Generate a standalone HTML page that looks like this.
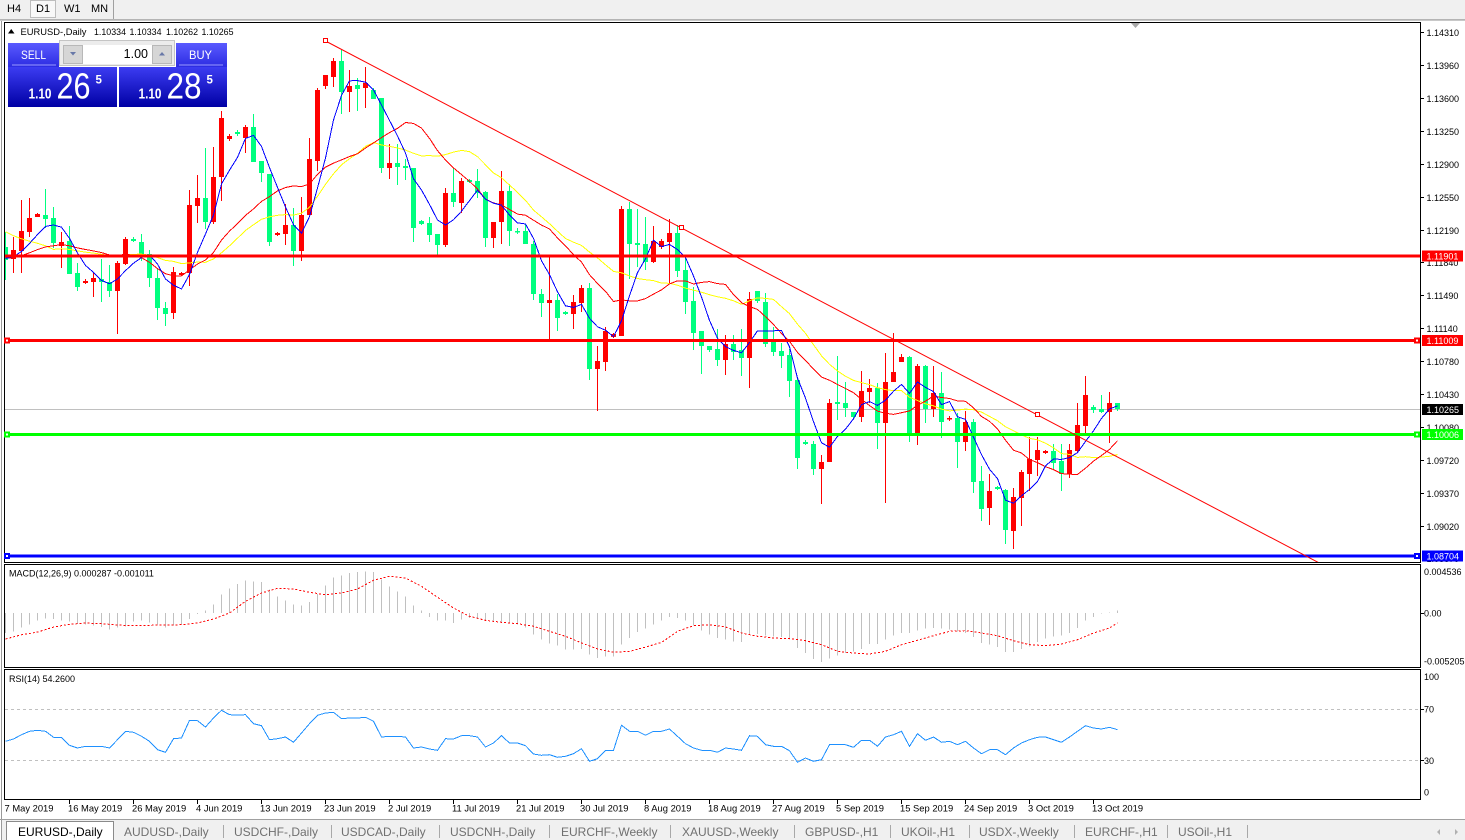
<!DOCTYPE html>
<html><head><meta charset="utf-8">
<style>
html,body{margin:0;padding:0;background:#fff;width:1465px;height:840px;overflow:hidden;font-family:"Liberation Sans",sans-serif;}
svg{display:block}
</style></head>
<body>
<svg id="c" xmlns="http://www.w3.org/2000/svg" width="1465" height="840" viewBox="0 0 1465 840" font-family="'Liberation Sans', sans-serif">
<defs>
<linearGradient id="gb" x1="0" y1="0" x2="0" y2="1"><stop offset="0" stop-color="#5a5aff"/><stop offset="1" stop-color="#2c2ce2"/></linearGradient>
<linearGradient id="gp" x1="0" y1="0" x2="0" y2="1"><stop offset="0" stop-color="#3c3cf2"/><stop offset="1" stop-color="#0000a4"/></linearGradient>
<clipPath id="cm"><rect x="5" y="23" width="1415" height="539"/></clipPath>
<clipPath id="cd"><rect x="5" y="565" width="1415" height="102"/></clipPath>
<clipPath id="cr"><rect x="5" y="670" width="1415" height="129"/></clipPath>
</defs>
<rect width="1465" height="840" fill="#fff"/>

<!-- toolbar -->
<rect x="0" y="0" width="1465" height="19" fill="#F0F0F0"/>
<line x1="0" y1="19.5" x2="1465" y2="19.5" stroke="#B4B4B4"/>
<rect x="30.5" y="0.5" width="25" height="17" fill="#F8F8F8" stroke="#BDBDBD"/>
<g font-size="11" fill="#000">
<text x="7" y="12">H4</text><text x="36" y="12">D1</text><text x="64" y="12">W1</text><text x="91" y="12">MN</text>
</g>
<line x1="113.5" y1="0" x2="113.5" y2="19" stroke="#A0A0A0"/>

<!-- window border -->
<line x1="1.5" y1="20" x2="1.5" y2="840" stroke="#9A9A9A"/>
<line x1="0" y1="20.5" x2="1465" y2="20.5" stroke="#C8C8C8"/>

<!-- pane frames -->
<g fill="none" stroke="#000" shape-rendering="crispEdges">
<rect x="4.5" y="22.5" width="1416" height="540"/>
<rect x="4.5" y="564.5" width="1416" height="103"/>
<rect x="4.5" y="669.5" width="1416" height="130"/>
</g>

<!-- RSI levels -->
<g stroke="#C0C0C0" stroke-dasharray="3,3" shape-rendering="crispEdges">
<line x1="5" y1="709.5" x2="1420" y2="709.5"/>
<line x1="5" y1="760.5" x2="1420" y2="760.5"/>
</g>

<!-- bid line -->
<line x1="5" y1="409.5" x2="1420" y2="409.5" stroke="#C0C0C0" shape-rendering="crispEdges"/>

<g id="gmain" clip-path="url(#cm)" shape-rendering="crispEdges"></g>
<g id="gma" clip-path="url(#cm)" shape-rendering="crispEdges"></g>
<g id="gmacd" clip-path="url(#cd)" shape-rendering="crispEdges"></g>
<g id="grsi" clip-path="url(#cr)" shape-rendering="crispEdges"></g>

<!-- horizontal levels -->
<g shape-rendering="crispEdges">
<rect x="5" y="254.5" width="1415" height="3" fill="#FF0000"/>
<rect x="5" y="339" width="1415" height="3" fill="#FF0000"/>
<rect x="5" y="433" width="1415" height="3" fill="#00FF00"/>
<rect x="5" y="554.5" width="1415" height="3" fill="#0000FF"/>
<rect x="4" y="337.5" width="6" height="6" fill="#FF0000"/><rect x="6" y="339.5" width="2" height="2" fill="#fff"/>
<rect x="1414" y="337.5" width="6" height="6" fill="#FF0000"/><rect x="1416" y="339.5" width="2" height="2" fill="#fff"/>
<rect x="4" y="431.5" width="6" height="6" fill="#00FF00"/><rect x="6" y="433.5" width="2" height="2" fill="#fff"/>
<rect x="1414" y="431.5" width="6" height="6" fill="#00FF00"/><rect x="1416" y="433.5" width="2" height="2" fill="#fff"/>
<rect x="4" y="553" width="6" height="6" fill="#0000FF"/><rect x="6" y="555" width="2" height="2" fill="#fff"/>
<rect x="1414" y="553" width="6" height="6" fill="#0000FF"/><rect x="1416" y="555" width="2" height="2" fill="#fff"/>
</g>

<!-- trend line -->
<g clip-path="url(#cm)">
<line x1="325.5" y1="41" x2="1345" y2="576.5" stroke="#FF0000" stroke-width="1"/>
</g>
<g fill="#fff" stroke="#FF0000" shape-rendering="crispEdges">
<rect x="323.5" y="38.5" width="4" height="4"/>
<rect x="679.5" y="225.5" width="4" height="4"/>
<rect x="1035.5" y="412.5" width="4" height="4"/>
</g>
<polygon points="1131,23 1140,23 1135.5,28" fill="#A8A8A8"/>

<!-- title -->
<polygon points="8,33.5 14.5,33.5 11.25,29" fill="#000"/>
<g font-size="9.5" fill="#000">
<text x="20.5" y="35" textLength="66" lengthAdjust="spacingAndGlyphs">EURUSD-,Daily</text>
<text x="94" y="35" textLength="32" lengthAdjust="spacingAndGlyphs">1.10334</text>
<text x="129.5" y="35" textLength="32" lengthAdjust="spacingAndGlyphs">1.10334</text>
<text x="166" y="35" textLength="32" lengthAdjust="spacingAndGlyphs">1.10262</text>
<text x="201.5" y="35" textLength="32" lengthAdjust="spacingAndGlyphs">1.10265</text>
</g>

<!-- trade panel -->
<rect x="59.5" y="40.5" width="115" height="25" fill="#ECECEC" stroke="#C4C4C4"/>
<rect x="63.5" y="45.5" width="19" height="18" fill="#D6D6D6" stroke="#B8B8B8"/>
<rect x="152.5" y="45.5" width="19" height="18" fill="#D6D6D6" stroke="#B8B8B8"/>
<rect x="83" y="45" width="69" height="19" fill="#fff"/>
<polygon points="70,52 76,52 73,55.5" fill="#6878A8"/>
<polygon points="159,55.5 165,55.5 162,52" fill="#6878A8"/>
<text x="148" y="58" font-size="12.5" text-anchor="end" fill="#000">1.00</text>
<rect x="8" y="43" width="51" height="24" fill="url(#gb)"/>
<line x1="12" y1="65" x2="56" y2="65" stroke="#9a9aff"/>
<text x="21" y="59" font-size="12" fill="#fff" textLength="25" lengthAdjust="spacingAndGlyphs">SELL</text>
<rect x="176" y="43" width="51" height="24" fill="url(#gb)"/>
<line x1="179" y1="65" x2="223" y2="65" stroke="#9a9aff"/>
<text x="189" y="59" font-size="12" fill="#fff" textLength="23" lengthAdjust="spacingAndGlyphs">BUY</text>
<rect x="8" y="67" width="109" height="40" fill="url(#gp)"/>
<rect x="119" y="67" width="108" height="40" fill="url(#gp)"/>
<g fill="#fff">
<text x="28.5" y="98.3" font-size="15" font-weight="bold" textLength="23" lengthAdjust="spacingAndGlyphs">1.10</text>
<text x="56.5" y="98.3" font-size="36" textLength="34" lengthAdjust="spacingAndGlyphs">26</text>
<text x="95.5" y="83.3" font-size="11.5" font-weight="bold">5</text>
<text x="138.5" y="98.3" font-size="15" font-weight="bold" textLength="23" lengthAdjust="spacingAndGlyphs">1.10</text>
<text x="166.5" y="98.3" font-size="36" textLength="35" lengthAdjust="spacingAndGlyphs">28</text>
<text x="206.5" y="83.3" font-size="11.5" font-weight="bold">5</text>
</g>

<!-- indicator labels -->
<text x="9" y="576.5" font-size="9" fill="#000">MACD(12,26,9) 0.000287 -0.001011</text>
<text x="9" y="682" font-size="9" fill="#000">RSI(14) 54.2600</text>

<!-- price axis -->
<g stroke="#000" shape-rendering="crispEdges">
<line x1="1420" y1="32.5" x2="1424" y2="32.5"/><line x1="1420" y1="65.5" x2="1424" y2="65.5"/>
<line x1="1420" y1="98.5" x2="1424" y2="98.5"/><line x1="1420" y1="131.5" x2="1424" y2="131.5"/>
<line x1="1420" y1="164.5" x2="1424" y2="164.5"/><line x1="1420" y1="197.5" x2="1424" y2="197.5"/>
<line x1="1420" y1="230.5" x2="1424" y2="230.5"/><line x1="1420" y1="262.5" x2="1424" y2="262.5"/>
<line x1="1420" y1="295.5" x2="1424" y2="295.5"/><line x1="1420" y1="328.5" x2="1424" y2="328.5"/>
<line x1="1420" y1="361.5" x2="1424" y2="361.5"/><line x1="1420" y1="394.5" x2="1424" y2="394.5"/>
<line x1="1420" y1="427.5" x2="1424" y2="427.5"/><line x1="1420" y1="460.5" x2="1424" y2="460.5"/>
<line x1="1420" y1="493.5" x2="1424" y2="493.5"/><line x1="1420" y1="526.5" x2="1424" y2="526.5"/>
<line x1="1420" y1="613.5" x2="1424" y2="613.5"/>
<line x1="1420" y1="709.5" x2="1424" y2="709.5"/><line x1="1420" y1="760.5" x2="1424" y2="760.5"/>
</g>
<g font-size="9" fill="#000">
<text x="1426.5" y="35.8">1.14310</text>
<text x="1426.5" y="68.8">1.13960</text>
<text x="1426.5" y="101.8">1.13600</text>
<text x="1426.5" y="134.8">1.13250</text>
<text x="1426.5" y="167.8">1.12900</text>
<text x="1426.5" y="200.8">1.12550</text>
<text x="1426.5" y="233.8">1.12190</text>
<text x="1426.5" y="265.8">1.11840</text>
<text x="1426.5" y="298.8">1.11490</text>
<text x="1426.5" y="331.8">1.11140</text>
<text x="1426.5" y="364.8">1.10780</text>
<text x="1426.5" y="397.8">1.10430</text>
<text x="1426.5" y="430.8">1.10080</text>
<text x="1426.5" y="463.8">1.09720</text>
<text x="1426.5" y="496.8">1.09370</text>
<text x="1426.5" y="529.8">1.09020</text>
<text x="1426.5" y="562">1.08670</text>
<text x="1424" y="575">0.004536</text>
<text x="1424" y="616.7">0.00</text>
<text x="1424" y="664.3">-0.005205</text>
<text x="1424" y="680">100</text>
<text x="1424" y="712.7">70</text>
<text x="1424" y="764">30</text>
<text x="1424" y="795.7">0</text>
</g>
<!-- colored price labels -->
<g font-size="9" fill="#fff">
<rect x="1422" y="250.5" width="41" height="11" fill="#FF0000"/><text x="1426.5" y="259.5">1.11901</text>
<rect x="1422" y="335" width="41" height="11" fill="#FF0000"/><text x="1426.5" y="344">1.11009</text>
<rect x="1422" y="404" width="41" height="11" fill="#000"/><text x="1426.5" y="413">1.10265</text>
<rect x="1422" y="429" width="41" height="11" fill="#00FF00"/><text x="1426.5" y="438">1.10006</text>
<rect x="1422" y="550.5" width="41" height="11" fill="#0000FF"/><text x="1426.5" y="559.5">1.08704</text>
</g>

<!-- date axis -->
<g stroke="#000" shape-rendering="crispEdges">
<line x1="69.5" y1="800" x2="69.5" y2="804"/><line x1="133.5" y1="800" x2="133.5" y2="804"/>
<line x1="197.5" y1="800" x2="197.5" y2="804"/><line x1="261.5" y1="800" x2="261.5" y2="804"/>
<line x1="325.5" y1="800" x2="325.5" y2="804"/><line x1="389.5" y1="800" x2="389.5" y2="804"/>
<line x1="453.5" y1="800" x2="453.5" y2="804"/><line x1="517.5" y1="800" x2="517.5" y2="804"/>
<line x1="581.5" y1="800" x2="581.5" y2="804"/><line x1="645.5" y1="800" x2="645.5" y2="804"/>
<line x1="709.5" y1="800" x2="709.5" y2="804"/><line x1="773.5" y1="800" x2="773.5" y2="804"/>
<line x1="837.5" y1="800" x2="837.5" y2="804"/><line x1="901.5" y1="800" x2="901.5" y2="804"/>
<line x1="965.5" y1="800" x2="965.5" y2="804"/><line x1="1029.5" y1="800" x2="1029.5" y2="804"/>
<line x1="1093.5" y1="800" x2="1093.5" y2="804"/>
</g>
<g font-size="9.4" fill="#000">
<text x="4.5" y="811.5">7 May 2019</text>
<text x="68" y="811.5">16 May 2019</text>
<text x="132" y="811.5">26 May 2019</text>
<text x="196" y="811.5">4 Jun 2019</text>
<text x="260" y="811.5">13 Jun 2019</text>
<text x="324" y="811.5">23 Jun 2019</text>
<text x="388" y="811.5">2 Jul 2019</text>
<text x="452" y="811.5">11 Jul 2019</text>
<text x="516" y="811.5">21 Jul 2019</text>
<text x="580" y="811.5">30 Jul 2019</text>
<text x="644" y="811.5">8 Aug 2019</text>
<text x="708" y="811.5">18 Aug 2019</text>
<text x="772" y="811.5">27 Aug 2019</text>
<text x="836" y="811.5">5 Sep 2019</text>
<text x="900" y="811.5">15 Sep 2019</text>
<text x="964" y="811.5">24 Sep 2019</text>
<text x="1028" y="811.5">3 Oct 2019</text>
<text x="1092" y="811.5">13 Oct 2019</text>
</g>

<!-- tabs -->
<rect x="2" y="820" width="1463" height="20" fill="#F0F0F0"/>
<line x1="0" y1="819.5" x2="1465" y2="819.5" stroke="#A0A0A0"/>
<path d="M6.5 840 V821.5 H113.5 V840" fill="#fff" stroke="#8A8A8A"/>
<text x="18" y="836" font-size="12" fill="#000">EURUSD-,Daily</text>
<g font-size="12" fill="#707070">
<text x="124" y="836">AUDUSD-,Daily</text>
<text x="234" y="836">USDCHF-,Daily</text>
<text x="341" y="836">USDCAD-,Daily</text>
<text x="450" y="836">USDCNH-,Daily</text>
<text x="561" y="836">EURCHF-,Weekly</text>
<text x="682" y="836">XAUUSD-,Weekly</text>
<text x="805" y="836">GBPUSD-,H1</text>
<text x="901" y="836">UKOil-,H1</text>
<text x="979" y="836">USDX-,Weekly</text>
<text x="1085" y="836">EURCHF-,H1</text>
<text x="1178" y="836">USOil-,H1</text>
</g>
<g stroke="#A8A8A8" shape-rendering="crispEdges">
<line x1="223.5" y1="825" x2="223.5" y2="838"/><line x1="331.5" y1="825" x2="331.5" y2="838"/>
<line x1="439.5" y1="825" x2="439.5" y2="838"/><line x1="549.5" y1="825" x2="549.5" y2="838"/>
<line x1="670.5" y1="825" x2="670.5" y2="838"/><line x1="794.5" y1="825" x2="794.5" y2="838"/>
<line x1="890.5" y1="825" x2="890.5" y2="838"/><line x1="969.5" y1="825" x2="969.5" y2="838"/>
<line x1="1074.5" y1="825" x2="1074.5" y2="838"/><line x1="1167.5" y1="825" x2="1167.5" y2="838"/>
<line x1="1247.5" y1="825" x2="1247.5" y2="838"/>
</g>
<polygon points="1440,829 1440,835 1437,832" fill="#B0B0B0"/>
<polygon points="1455,829 1455,835 1458,832" fill="#B0B0B0"/>
</svg>

<script>
(function(){
var NS='http://www.w3.org/2000/svg';
function mk(tag,a,p){var e=document.createElementNS(NS,tag);for(var k in a)e.setAttribute(k,a[k]);p.appendChild(e);return e;}
var gMain=document.getElementById('gmain'),gMA=document.getElementById('gma'),gMacd=document.getElementById('gmacd'),gRsi=document.getElementById('grsi');
var D=[
[0,'g',247,260,232,280],[1,'r',250,259,237,273],[2,'r',231,251,200,273],[3,'r',218,232,198,237],[4,'r',214,217,213,217],
[5,'g',215,219,189,228],[6,'g',218,243,207,248],[7,'r',242,246,232,268],[8,'g',241,274,226,274],[9,'g',273,287,263,291],
[10,'r',281,283,279,284],[11,'r',278,282,272,297],[12,'g',279,282,259,302],[13,'g',282,291,265,297],[14,'r',263,291,261,334],
[15,'r',239,264,237,265],[16,'g',239,241,237,242],[17,'g',242,254,234,261],[18,'g',254,278,250,287],[19,'g',278,308,268,320],
[20,'g',308,314,302,326],[21,'r',272,313,267,319],[22,'r',273,275,272,276],[23,'r',205,273,190,286],[24,'r',198,206,175,223],
[25,'g',198,222,148,229],[26,'r',177,222,147,224],[27,'r',118,177,111,201],[28,'r',136,139,134,141],[29,'g',132,134,130,136],
[30,'r',127,138,125,153],[31,'g',127,162,114,162],[32,'g',161,173,161,182],[33,'g',174,242,174,246],[34,'r',233,235,232,236],
[35,'r',225,234,204,245],[36,'g',225,251,208,266],[37,'r',215,251,197,261],[38,'r',159,215,138,215],[39,'r',90,161,88,171],
[40,'r',75,86,75,89],[41,'r',61,77,58,87],[42,'g',61,92,50,114],[43,'r',86,92,70,112],[44,'g',85,89,78,111],
[45,'r',83,88,67,108],[46,'g',90,99,88,99],[47,'g',98,168,98,173],[48,'r',163,168,144,179],[49,'g',163,167,144,185],
[50,'g',166,168,159,180],[51,'g',168,228,168,242],[52,'g',221,224,220,225],[53,'g',223,235,217,242],[54,'g',234,245,234,255],
[55,'r',193,245,188,247],[56,'g',193,202,168,207],[57,'r',181,203,178,213],[58,'g',180,182,179,183],[59,'g',181,193,169,198],
[60,'g',192,238,191,247],[61,'r',222,238,222,248],[62,'r',191,222,171,244],[63,'g',191,231,184,246],[64,'g',231,232,228,234],
[65,'g',231,244,224,244],[66,'g',244,294,241,300],[67,'g',294,303,289,317],[68,'r',300,303,257,339],[69,'g',300,318,294,331],
[70,'g',312,314,311,315],[71,'r',302,314,295,329],[72,'r',288,303,285,312],[73,'g',288,369,283,380],[74,'r',361,369,346,411],
[75,'r',331,362,327,371],[76,'r',334,337,333,338],[77,'r',209,336,206,336],[78,'g',209,244,202,279],[79,'g',243,245,209,267],
[80,'g',244,262,217,270],[81,'r',241,262,226,263],[82,'r',241,247,239,249],[83,'r',233,242,219,283],[84,'g',233,271,225,277],
[85,'g',270,302,257,314],[86,'g',301,333,287,350],[87,'g',331,346,331,374],[88,'g',346,350,346,352],[89,'g',349,360,329,366],
[90,'r',344,360,335,375],[91,'g',344,352,335,360],[92,'g',350,358,329,376],[93,'r',299,358,292,388],[94,'g',291,301,291,303],
[95,'g',302,344,293,347],[96,'g',342,352,327,356],[97,'g',351,356,343,368],[98,'g',355,381,349,397],[99,'g',380,458,379,469],
[100,'g',442,444,440,445],[101,'g',444,469,441,475],[102,'r',462,469,455,504],[103,'r',403,462,399,462],[104,'g',402,404,356,420],
[105,'g',403,408,382,417],[106,'g',412,417,412,418],[107,'r',391,417,371,422],[108,'r',388,392,379,403],[109,'g',388,423,383,449],
[110,'r',382,423,353,503],[111,'r',372,382,333,382],[112,'r',357,362,354,362],[113,'g',357,433,356,442],[114,'r',366,433,364,445],
[115,'g',366,409,365,423],[116,'r',393,409,366,417],[117,'g',393,422,372,438],[118,'r',418,419,416,421],[119,'g',418,442,413,468],
[120,'r',422,442,411,451],[121,'g',422,482,419,493],[122,'g',481,509,466,521],[123,'r',491,508,474,525],[124,'g',487,489,486,490],
[125,'g',490,530,489,544],[126,'r',497,531,488,549],[127,'r',472,498,470,526],[128,'r',459,474,437,491],[129,'r',450,460,437,476],
[130,'r',451,453,450,454],[131,'g',451,463,444,469],[132,'g',461,474,444,491],[133,'r',450,474,444,478],[134,'r',425,451,403,453],
[135,'r',395,426,376,433],[136,'g',407,410,405,413],[137,'g',409,412,395,413],[138,'r',403,412,392,443],[139,'g',403,409,403,411]
];
D.forEach(function(d){
  var x=5+8*d[0],col=d[1]==='r'?'#FF0000':'#00FF7F';
  mk('line',{x1:x+0.5,y1:d[4],x2:x+0.5,y2:d[5],stroke:col,'stroke-width':1},gMain);
  mk('rect',{x:x-2,y:d[2],width:5,height:Math.max(d[3]-d[2],1.5),fill:col},gMain);
});
var pre=[170,170,170,170,170,170,258,258,258,258,258,258,258,258,258,258,258,258,258];
var cl=pre.concat(D.map(function(d){return d[1]==='r'?d[2]:d[3];}));
function sma(n,color){
  var pts=[];
  D.forEach(function(d,k){var s=0;for(var j=0;j<n;j++)s+=cl[19+k-j];pts.push((5+8*d[0]+0.5)+','+(s/n).toFixed(1));});
  mk('polyline',{points:pts.join(' '),fill:'none',stroke:color,'stroke-width':1},gMA);
}
sma(20,'#FFFF00');sma(14,'#FF0000');sma(5,'#0000FF');

// MACD histogram
var H=[210,205,193,185,172,167,168,172,175,183,185,188,192,200,193,190,175,172,178,185,193,188,185,168,153,143,125,95,77,63,
52,55,57,80,100,112,125,128,117,93,67,43,37,30,27,25,27,50,70,85,100,127,143,162,172,172,180,170,165,168,
172,175,178,180,185,193,215,230,242,248,
260,260,258,275,285,280,280,245,225,207,197,185,173,162,165,173,188,203,215,225,230,235,237,213,213,217,220,222,230,255,
270,288,297,287,278,270,265,258,243,243,230,218,210,210,203,197,195,197,200,205,210,222,240,245,252,267,267,258,250,237,
227,220,218,210,195,173,162,152,148,143];
H.forEach(function(z,i){var x=5+8*i+0.5;mk('line',{x1:x,y1:613,x2:x,y2:(563+z/3).toFixed(1),stroke:'#C0C0C0','stroke-width':1},gMacd);});
var s11=[[15,228],[60,215],[104,207],[148,192],[192,184],[236,180],[280,182],[323,186],[367,188],[411,187],[455,186],[499,185],[543,180],[587,168],[631,150],[675,115],[719,90],[763,76],[807,78],[851,88],[895,95],[939,90],[983,78],[1027,52],[1071,40],[1115,45],[1159,70],[1203,103],[1247,135],[1291,160],[1335,172],[1379,178],[1423,182],[1467,190],[1511,205],[1555,220]];
var s12=[[60,240],[104,258],[148,268],[192,265],[236,252],[280,238],[323,205],[367,188],[411,185],[455,192],[499,210],[543,220],[587,225],[631,227],[675,233],[719,245],[763,265],[807,270],[851,273],[895,265],[939,245],[983,232],[1027,218],[1071,205],[1115,203],[1159,210],[1203,218],[1247,233],[1291,245],[1335,248],[1379,243],[1423,230],[1467,210],[1511,195],[1533,180]];
var sp=[];
s11.forEach(function(p){sp.push((p[0]/2.75).toFixed(1)+','+(563+p[1]/3).toFixed(1));});
s12.forEach(function(p){sp.push((560+p[0]/2.75).toFixed(1)+','+(563+p[1]/3).toFixed(1));});
mk('polyline',{points:sp.join(' '),fill:'none',stroke:'#FF0000','stroke-width':1,'stroke-dasharray':'2,2'},gMacd);

// RSI
var R=[535,528,515,505,502,505,523,523,547,555,550,550,550,555,530,505,508,520,535,560,
568,527,525,472,473,492,465,442,455,456,455,482,488,530,527,522,538,510,482,457,
450,448,467,465,465,463,475,522,520,520,522,555,552,558,562,527,528,518,518,522,
552,540,518,540,540,548,573,577,575,583,
580,572,557,595,587,562,562,487,505,505,517,505,505,498,520,542,555,562,562,568,
555,558,562,518,520,545,550,550,563,598,585,595,590,545,545,545,553,532,532,550,
522,515,505,550,512,532,522,538,535,545,535,555,572,560,560,575,555,540,530,523,
522,530,538,522,505,488,495,498,493,500];
var rp=[];
R.forEach(function(z,i){rp.push((5+8*i+0.5)+','+(563+z/3).toFixed(1));});
mk('polyline',{points:rp.join(' '),fill:'none',stroke:'#1E90FF','stroke-width':1},gRsi);
})();
</script>
</body></html>
